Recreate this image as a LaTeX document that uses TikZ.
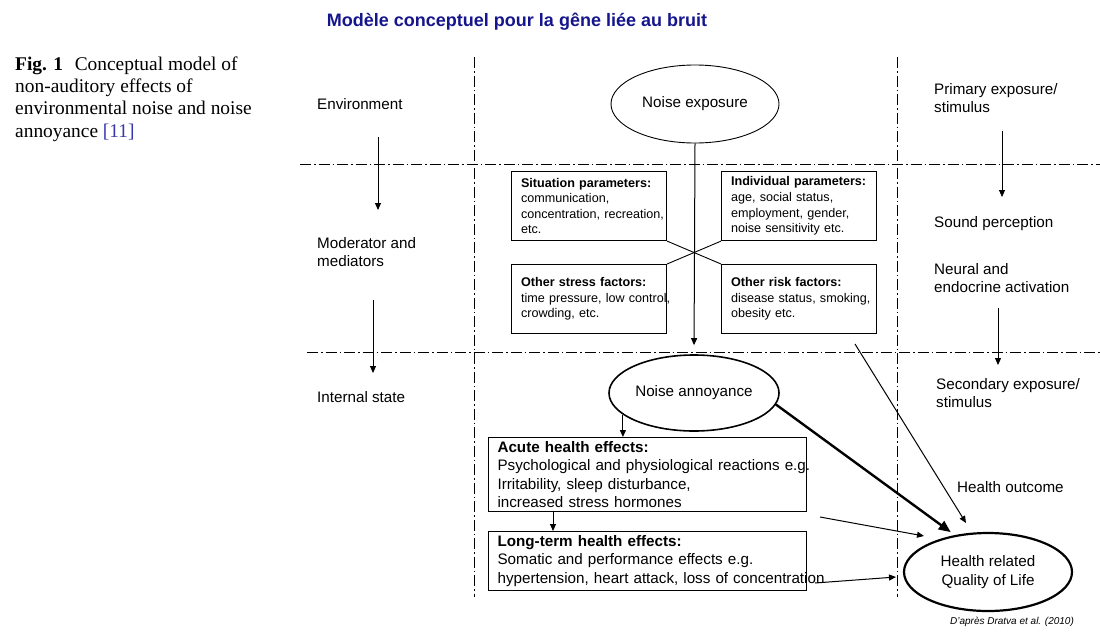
\documentclass[tikz,border=0pt]{standalone}
\usepackage{fontspec}
\setmainfont{Liberation Sans}
\newfontfamily\capfont{Liberation Serif}
\usetikzlibrary{shapes.geometric,arrows.meta}
\definecolor{titleblue}{RGB}{22,22,140}
\definecolor{refblue}{RGB}{55,55,170}
\begin{document}
\begin{tikzpicture}[x=1pt,y=-1pt,
  lbl/.style={anchor=west,align=left,inner sep=0pt,font=\fontsize{15.2}{18.7}\selectfont},
  pbox/.style={draw,line width=1.1pt,anchor=north west,text width=136pt,inner xsep=9.5pt,inner ysep=0pt,minimum width=155pt,align=left,font=\fontsize{12.6}{15.6}\selectfont},
  hbox/.style={draw,line width=1.1pt,anchor=north west,text width=300pt,inner xsep=9pt,inner ysep=0pt,minimum width=318pt,align=left,font=\fontsize{15.2}{18.3}\selectfont},
  oval/.style={draw,ellipse,inner sep=0pt,align=center,font=\fontsize{15.2}{18.3}\selectfont},
  sep/.style={line width=0.9pt,dash pattern=on 11pt off 3pt on 1.5pt off 3pt},
  arr/.style={-{Triangle[length=7pt,width=6pt]},line width=1pt},
  bigarr/.style={-{Triangle[length=12pt,width=10pt]},line width=2.4pt}]
\useasboundingbox (0,0) rectangle (1100,640);
\node[font=\fontsize{18}{20}\selectfont\bfseries,text=titleblue] (T_title) at (517,22) {Modèle conceptuel pour la gêne liée au bruit};
\node[anchor=west,align=left,inner sep=0pt,font=\capfont\fontsize{19.4}{22.4}\selectfont] (T_cap) at (15,99) {\textbf{Fig. 1}\hspace{0.6em}Conceptual model of\\non-auditory effects of\\environmental noise and noise\\annoyance \textcolor{refblue}{[11]}};
\draw[sep] (474,57) -- (474,597);
\draw[sep] (897,57) -- (897,597);
\draw[sep] (300,164) -- (1100,164);
\draw[sep] (307,352) -- (1100,352);
\node[lbl] (L_env) at (317,104) {Environment};
\node[lbl] (L_mod) at (317,252) {Moderator and\\mediators};
\node[lbl] (L_int) at (317,397) {Internal state};
\coordinate (A_1) at (378,137);
\coordinate (A_2) at (378,210);
\draw[arr] (A_1) -- (A_2);
\coordinate (A_3) at (373,300);
\coordinate (A_4) at (373,373);
\draw[arr] (A_3) -- (A_4);
\node[lbl] (R_prim) at (934,98) {Primary exposure/\\stimulus};
\node[lbl] (R_sound) at (934,224) {Sound perception};
\node[lbl] (R_neur) at (934,278) {Neural and\\endocrine activation};
\node[lbl] (R_sec) at (936,393) {Secondary exposure/\\stimulus};
\node[lbl] (R_out) at (957,487) {Health outcome};
\coordinate (A_5) at (1002,131);
\coordinate (A_6) at (1002,197);
\draw[arr] (A_5) -- (A_6);
\coordinate (A_7) at (998,308);
\coordinate (A_8) at (998,365);
\draw[arr] (A_7) -- (A_8);
\node[oval,line width=0.9pt,minimum width=168pt,minimum height=78pt] (E_expo) at (695,104) {Noise exposure};
\node[pbox,minimum height=69pt] (B_sit) at (511,171) {\textbf{Situation parameters:}\\communication,\\\mbox{concentration, recreation,}\\etc.};
\node[pbox,minimum height=69pt] (B_ind) at (721,171) {\textbf{Individual parameters:}\\age, social status,\\employment, gender,\\noise sensitivity etc.};
\node[pbox,minimum height=69pt] (B_str) at (511,264) {\textbf{Other stress factors:}\\\mbox{time pressure, low control,}\\crowding, etc.};
\node[pbox,minimum height=69pt] (B_risk) at (721,264) {\textbf{Other risk factors:}\\\mbox{disease status, smoking,}\\obesity etc.};
\draw[line width=0.9pt] (B_sit.south east) -- (B_risk.north west);
\draw[line width=0.9pt] (B_ind.south west) -- (B_str.north east);
\node[oval,line width=1.6pt,minimum width=170pt,minimum height=76pt] (E_ann) at (694,393) {Noise annoyance};
\draw[arr,shorten >=9pt] (E_expo.south) -- (E_ann.north);
\node[hbox,minimum height=74pt] (B_acute) at (488,437) {\textbf{Acute health effects:}\\\mbox{Psychological and physiological reactions e.g.}\\Irritability, sleep disturbance,\\increased stress hormones};
\node[hbox,minimum height=59pt] (B_long) at (488,531) {\textbf{Long-term health effects:}\\Somatic and performance effects e.g.\\\mbox{hypertension, heart attack, loss of concentration}};
\draw[arr] (E_ann.197) -- (E_ann.197 |- B_acute.north);
\draw[arr] ([xshift=65pt]B_acute.south west) -- ([xshift=65pt]B_long.north west);
\node[oval,line width=2.2pt,minimum width=168pt,minimum height=78pt] (E_qol) at (988,572) {Health related\\Quality of Life};
\draw[bigarr,shorten >=5pt] (E_ann.-8) -- (E_qol.132);
\coordinate (A_9) at (855,344);
\coordinate (A_10) at (966,523);
\draw[arr] (A_9) -- (A_10);
\coordinate (A_11) at (820,517);
\coordinate (A_12) at (924,536);
\draw[arr] (A_11) -- (A_12);
\coordinate (A_13) at (815,583);
\coordinate (A_14) at (896,577);
\draw[arr] (A_13) -- (A_14);
\node[font=\fontsize{10}{12}\selectfont\itshape] (T_src) at (1012,622) {D'après Dratva et al. (2010)};
\end{tikzpicture}
\end{document}
